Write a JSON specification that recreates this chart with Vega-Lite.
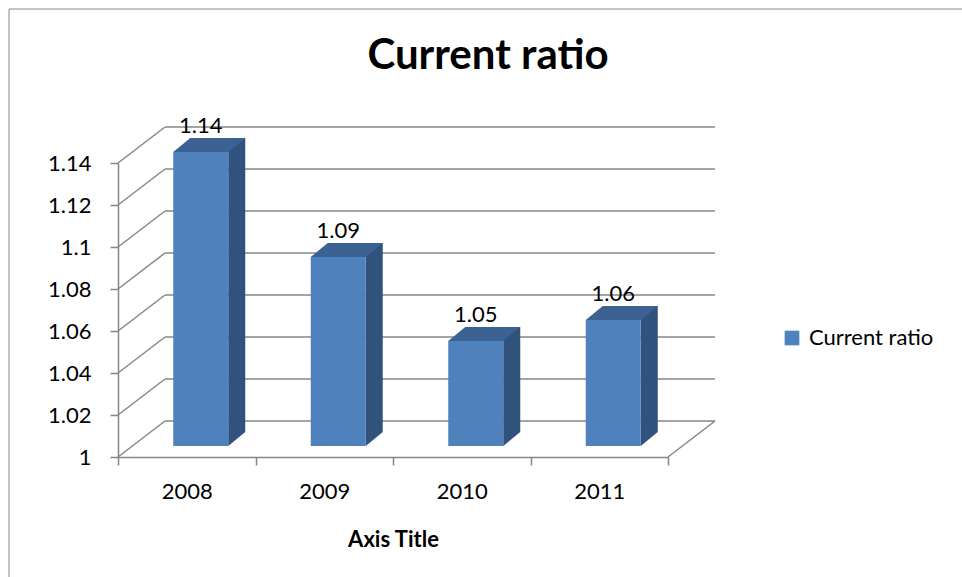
{
  "$schema": "https://vega.github.io/schema/vega-lite/v6.json",
  "width": 550,
  "height": 294,
  "autosize": {"type": "none"},
  "padding": {"left": 118, "top": 163, "right": 294, "bottom": 120},
  "background": "white",
  "config": {
    "view": {"stroke": null},
    "font": "Lato",
    "axisX": {
      "tickBand": "extent",
      "domainColor": "#868686",
      "domainWidth": 1.5,
      "tickColor": "#868686",
      "tickWidth": 1.5,
      "tickSize": 8,
      "labelFont": "Lato",
      "labelFontSize": 22,
      "labelColor": "#000000",
      "labelPadding": 16,
      "labelAngle": 0,
      "titleFont": "Lato",
      "titleFontSize": 22,
      "titleFontWeight": "bold",
      "titleColor": "#000000",
      "titlePadding": 27,
      "grid": false
    },
    "axisY": {
      "grid": false,
      "domainColor": "#868686",
      "domainWidth": 1.5,
      "tickColor": "#868686",
      "tickWidth": 1.5,
      "tickSize": 8,
      "labelFont": "Lato",
      "labelFontSize": 22,
      "labelColor": "#000000",
      "labelPadding": 19,
      "labelFlush": false,
      "labelOverlap": false
    }
  },
  "title": {
    "text": "Current ratio",
    "font": "Lato",
    "fontSize": 42,
    "fontWeight": "bold",
    "color": "#000000",
    "anchor": "middle",
    "dx": 95,
    "dy": 103,
    "baseline": "alphabetic",
    "offset": 0
  },
  "datasets": {
    "bars": [
      {"year": "2008", "value": 1.14, "series": "Current ratio"},
      {"year": "2009", "value": 1.09, "series": "Current ratio"},
      {"year": "2010", "value": 1.05, "series": "Current ratio"},
      {"year": "2011", "value": 1.06, "series": "Current ratio"}
    ],
    "levels": [
      {"level": 1.0}, {"level": 1.02}, {"level": 1.04}, {"level": 1.06},
      {"level": 1.08}, {"level": 1.1}, {"level": 1.12}, {"level": 1.14}
    ]
  },
  "data": {"name": "bars"},
  "layer": [
    {
      "data": {"name": "levels"},
      "mark": {"type": "rule", "color": "#868686", "strokeWidth": 1.5, "xOffset": 47, "x2Offset": 115.75, "yOffset": -36, "y2Offset": -36},
      "encoding": {
        "x": {"datum": "2008", "type": "nominal", "bandPosition": 0, "title": "Axis Title"},
        "x2": {"datum": "2011"},
        "y": {"field": "level", "type": "quantitative", "title": null},
        "y2": {"field": "level"}
      }
    },
    {
      "data": {"name": "levels"},
      "mark": {"type": "rule", "color": "#868686", "strokeWidth": 1.5, "x2Offset": -21.75, "y2Offset": -36},
      "encoding": {
        "x": {"datum": "2008", "type": "nominal", "bandPosition": 0, "title": "Axis Title"},
        "x2": {"datum": "2008"},
        "y": {"field": "level", "type": "quantitative", "title": null},
        "y2": {"field": "level"}
      }
    },
    {
      "data": {"values": [{}]},
      "mark": {"type": "rule", "color": "#868686", "strokeWidth": 1.5, "x2Offset": 115.75, "y2Offset": -36},
      "encoding": {
        "x": {"datum": "2011", "type": "nominal", "bandPosition": 1, "title": "Axis Title"},
        "x2": {"datum": "2011"},
        "y": {"datum": 1, "type": "quantitative", "title": null},
        "y2": {"datum": 1}
      }
    },
    {
      "data": {"values": [{}]},
      "mark": {"type": "point", "opacity": 0, "size": 1},
      "encoding": {
        "shape": {
          "datum": "frame",
          "type": "nominal",
          "legend": {
            "title": null,
            "orient": "none",
            "legendX": -109.5,
            "legendY": -154.5,
            "padding": 700,
            "strokeColor": "#898989",
            "symbolOpacity": 0,
            "labelExpr": "''",
            "symbolSize": 1,
            "encode": {"legend": {"update": {"strokeWidth": {"value": 2}}}}
          }
        }
      }
    },
    {
      "mark": {"type": "bar", "width": 17, "xOffset": 50, "yOffset": -25, "y2Offset": -25, "color": "#32527E"},
      "encoding": {
        "x": {"field": "year", "type": "nominal", "title": "Axis Title"},
        "y": {"field": "value", "type": "quantitative", "title": null},
        "y2": {"datum": 1}
      }
    },
    {
      "mark": {"type": "point", "shape": "M41.5,-25L41.5,-11L58.5,-25Z", "size": 4, "filled": true, "color": "#32527E", "opacity": 1, "strokeWidth": 0},
      "encoding": {
        "x": {"field": "year", "type": "nominal", "title": "Axis Title"},
        "y": {"datum": 1, "type": "quantitative", "title": null}
      }
    },
    {
      "mark": {"type": "point", "shape": "M-13.5,-11L41.5,-11L58.5,-25L3.5,-25Z", "size": 4, "filled": true, "color": "#3C6294", "opacity": 1, "strokeWidth": 0},
      "encoding": {
        "x": {"field": "year", "type": "nominal", "title": "Axis Title"},
        "y": {"field": "value", "type": "quantitative", "title": null}
      }
    },
    {
      "mark": {"type": "bar", "width": 55, "xOffset": 14, "yOffset": -11, "y2Offset": -11},
      "encoding": {
        "x": {
          "field": "year",
          "type": "nominal",
          "title": "Axis Title",
          "scale": {"paddingInner": 0, "paddingOuter": 0}
        },
        "y": {
          "field": "value",
          "type": "quantitative",
          "title": null,
          "scale": {"domain": [1, 1.14], "zero": false, "nice": false},
          "axis": {
            "values": [1, 1.02, 1.04, 1.06, 1.08, 1.1, 1.12, 1.14],
            "format": ".2~f"
          }
        },
        "y2": {"datum": 1},
        "color": {
          "field": "series",
          "type": "nominal",
          "scale": {"range": ["#4F81BD"]},
          "legend": {
            "title": null,
            "orient": "none",
            "legendX": 663,
            "legendY": 164,
            "padding": 0,
            "symbolType": "square",
            "symbolSize": 216,
            "symbolStrokeWidth": 0,
            "labelFont": "Lato",
            "labelFontSize": 22,
            "labelColor": "#000000",
            "labelOffset": 6
          }
        }
      }
    },
    {
      "mark": {"type": "text", "dx": 14, "dy": -30, "baseline": "alphabetic", "font": "Lato", "fontSize": 22, "color": "#000000"},
      "encoding": {
        "x": {"field": "year", "type": "nominal", "title": "Axis Title"},
        "y": {"field": "value", "type": "quantitative", "title": null},
        "text": {"field": "value", "type": "quantitative", "format": ".2f"}
      }
    }
  ]
}
